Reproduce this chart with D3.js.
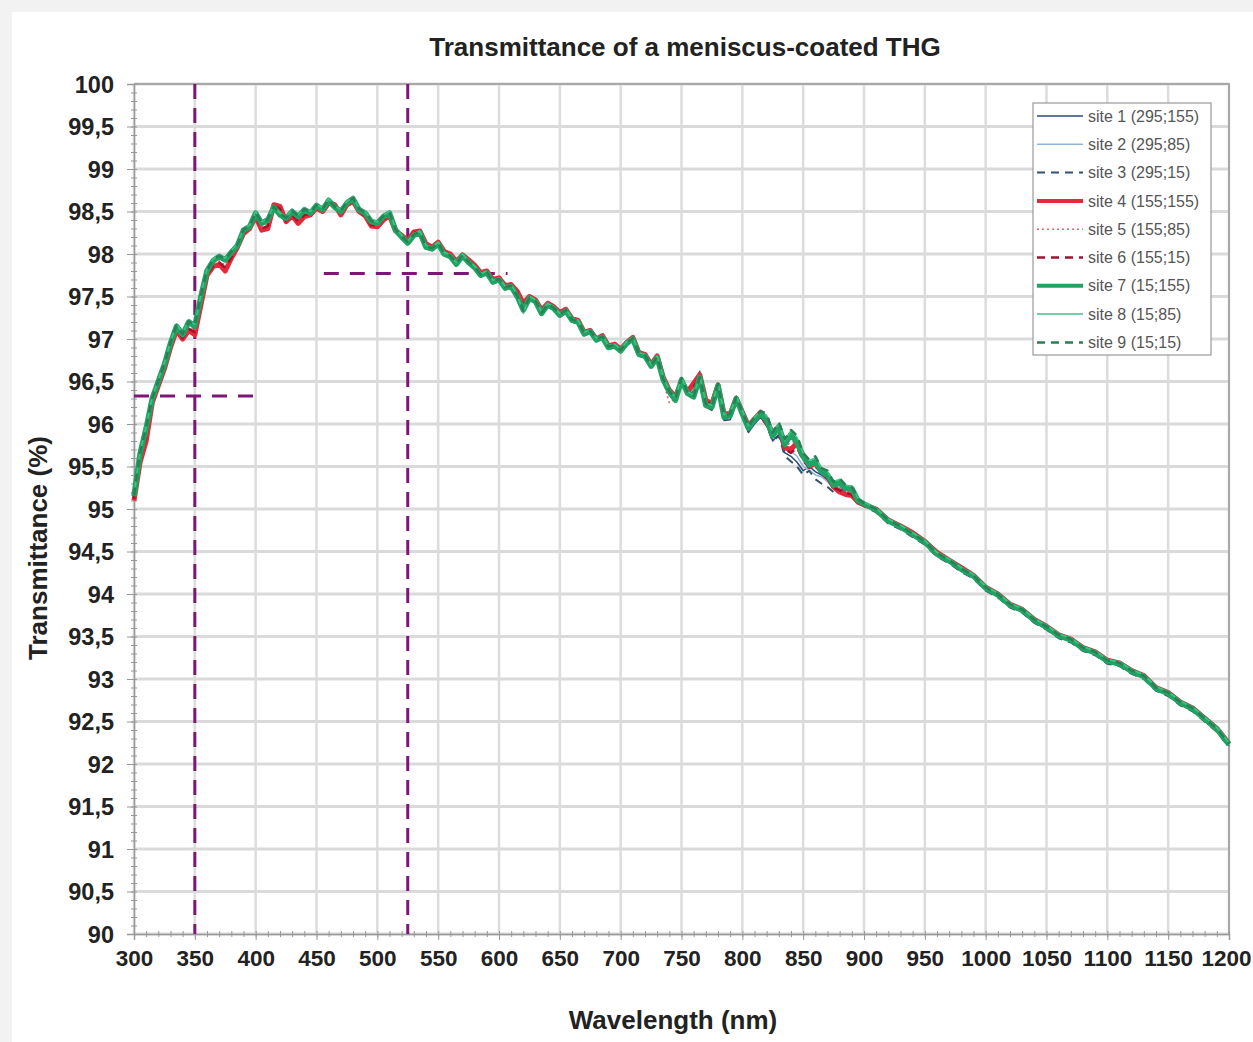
<!DOCTYPE html>
<html>
<head>
<meta charset="utf-8">
<script src="https://cdn.jsdelivr.net/npm/d3@7"></script>
<style>
    body { margin: 0; background: #f2f2f2; }
    #chart-area { width: 1253px; height: 1042px; }
    text { font-family: "Liberation Sans", Arial, sans-serif; }
</style>
</head>
<body>
<div id="chart-area"></div>
<script>

// wavelength (nm) : 5 nm steps up to 900, then 10 nm
var wavelengths = [
    300, 305, 310, 315, 320, 325, 330, 335, 340, 345,
    350, 355, 360, 365, 370, 375, 380, 385, 390, 395,
    400, 405, 410, 415, 420, 425, 430, 435, 440, 445,
    450, 455, 460, 465, 470, 475, 480, 485, 490, 495,
    500, 505, 510, 515, 520, 525, 530, 535, 540, 545,
    550, 555, 560, 565, 570, 575, 580, 585, 590, 595,
    600, 605, 610, 615, 620, 625, 630, 635, 640, 645,
    650, 655, 660, 665, 670, 675, 680, 685, 690, 695,
    700, 705, 710, 715, 720, 725, 730, 735, 740, 745,
    750, 755, 760, 765, 770, 775, 780, 785, 790, 795,
    800, 805, 810, 815, 820, 825, 830, 835, 840, 845,
    850, 855, 860, 865, 870, 875, 880, 885, 890, 895,
    900,
    910, 920, 930, 940, 950, 960, 970, 980, 990, 1000,
    1010, 1020, 1030, 1040, 1050, 1060, 1070, 1080, 1090, 1100,
    1110, 1120, 1130, 1140, 1150, 1160, 1170, 1180, 1190, 1200
];

var site1 = [
    95.20, 95.70, 95.92, 96.28, 96.52, 96.72, 96.92, 97.12, 97.08, 97.18,
    97.12, 97.48, 97.78, 97.90, 97.95, 97.91, 98.00, 98.08, 98.26, 98.30,
    98.46, 98.34, 98.38, 98.53, 98.44, 98.40, 98.48, 98.42, 98.50, 98.46,
    98.55, 98.50, 98.61, 98.53, 98.48, 98.58, 98.63, 98.50, 98.46, 98.36,
    98.34, 98.42, 98.46, 98.26, 98.18, 98.11, 98.20, 98.23, 98.06, 98.04,
    98.10, 97.98, 97.95, 97.86, 97.96, 97.88, 97.82, 97.73, 97.76, 97.65,
    97.68, 97.58, 97.60, 97.48, 97.36, 97.46, 97.42, 97.28, 97.38, 97.34,
    97.26, 97.31, 97.20, 97.18, 97.04, 97.07, 96.97, 97.00, 96.88, 96.90,
    96.84, 96.93, 96.98, 96.80, 96.78, 96.66, 96.76, 96.48, 96.34, 96.26,
    96.48, 96.34, 96.45, 96.62, 96.20, 96.16, 96.40, 96.04, 96.05, 96.26,
    96.08, 95.90, 96.00, 96.08, 95.98, 95.80, 95.88, 95.66, 95.62, 95.55,
    95.45, 95.50, 95.44, 95.40, 95.34, 95.24, 95.27, 95.22, 95.20, 95.08,
    95.04,
    94.97, 94.84, 94.77, 94.68, 94.59, 94.45, 94.37, 94.27, 94.19, 94.05,
    93.97, 93.85, 93.79, 93.67, 93.59, 93.49, 93.44, 93.34, 93.29, 93.19,
    93.16, 93.07, 93.01, 92.87, 92.81, 92.70, 92.63, 92.51, 92.39, 92.21
];

var site2 = [
    95.25, 95.72, 96.00, 96.33, 96.55, 96.74, 96.98, 97.18, 97.10, 97.23,
    97.18, 97.53, 97.83, 97.95, 98.00, 97.96, 98.05, 98.13, 98.31, 98.35,
    98.51, 98.39, 98.43, 98.58, 98.49, 98.45, 98.53, 98.47, 98.55, 98.51,
    98.60, 98.55, 98.66, 98.58, 98.53, 98.63, 98.68, 98.55, 98.51, 98.41,
    98.39, 98.47, 98.51, 98.31, 98.23, 98.16, 98.25, 98.28, 98.11, 98.09,
    98.15, 98.03, 98.00, 97.91, 98.01, 97.93, 97.87, 97.78, 97.81, 97.70,
    97.73, 97.63, 97.65, 97.53, 97.37, 97.51, 97.47, 97.33, 97.43, 97.39,
    97.31, 97.36, 97.25, 97.23, 97.09, 97.12, 97.02, 97.05, 96.93, 96.95,
    96.89, 96.98, 97.03, 96.85, 96.83, 96.71, 96.81, 96.58, 96.42, 96.34,
    96.55, 96.40, 96.42, 96.60, 96.26, 96.22, 96.44, 96.12, 96.08, 96.30,
    96.12, 95.94, 96.02, 96.10, 96.02, 95.84, 95.92, 95.72, 95.68, 95.62,
    95.50, 95.46, 95.40, 95.38, 95.32, 95.24, 95.28, 95.23, 95.21, 95.10,
    95.05,
    94.98, 94.85, 94.78, 94.69, 94.60, 94.46, 94.38, 94.28, 94.20, 94.06,
    93.98, 93.86, 93.80, 93.68, 93.60, 93.50, 93.45, 93.35, 93.30, 93.20,
    93.17, 93.08, 93.02, 92.88, 92.82, 92.71, 92.64, 92.52, 92.40, 92.22
];

var site3 = [
    95.18, 95.68, 95.93, 96.29, 96.49, 96.71, 96.94, 97.14, 97.04, 97.19,
    97.14, 97.49, 97.79, 97.91, 97.96, 97.92, 98.01, 98.09, 98.27, 98.31,
    98.47, 98.35, 98.39, 98.54, 98.45, 98.41, 98.49, 98.43, 98.51, 98.47,
    98.56, 98.51, 98.62, 98.54, 98.49, 98.59, 98.64, 98.51, 98.47, 98.37,
    98.35, 98.43, 98.47, 98.27, 98.19, 98.12, 98.21, 98.24, 98.07, 98.05,
    98.11, 97.99, 97.96, 97.87, 97.97, 97.89, 97.83, 97.74, 97.77, 97.66,
    97.69, 97.59, 97.61, 97.49, 97.33, 97.47, 97.43, 97.29, 97.39, 97.35,
    97.27, 97.32, 97.21, 97.19, 97.05, 97.08, 96.98, 97.01, 96.89, 96.91,
    96.85, 96.94, 96.99, 96.81, 96.79, 96.67, 96.77, 96.50, 96.36, 96.27,
    96.50, 96.35, 96.38, 96.58, 96.21, 96.18, 96.42, 96.06, 96.07, 96.28,
    96.10, 95.92, 96.02, 96.09, 95.98, 95.80, 95.86, 95.62, 95.56, 95.50,
    95.40, 95.45, 95.35, 95.30, 95.26, 95.20, 95.24, 95.20, 95.20, 95.08,
    95.03,
    94.96, 94.83, 94.76, 94.67, 94.58, 94.44, 94.36, 94.26, 94.18, 94.04,
    93.96, 93.84, 93.78, 93.66, 93.58, 93.48, 93.43, 93.33, 93.28, 93.18,
    93.15, 93.06, 93.00, 92.86, 92.80, 92.69, 92.62, 92.50, 92.38, 92.20
];

var site4 = [
    95.10, 95.55, 95.80, 96.25, 96.45, 96.65, 96.90, 97.10, 97.00, 97.10,
    97.05, 97.40, 97.75, 97.85, 97.88, 97.80, 97.95, 98.08, 98.24, 98.30,
    98.44, 98.28, 98.30, 98.58, 98.56, 98.38, 98.45, 98.36, 98.44, 98.46,
    98.54, 98.50, 98.60, 98.58, 98.46, 98.58, 98.62, 98.50, 98.45, 98.33,
    98.32, 98.40, 98.45, 98.27, 98.22, 98.16, 98.26, 98.27, 98.12, 98.08,
    98.14, 98.03, 98.00, 97.91, 97.99, 97.93, 97.87, 97.78, 97.80, 97.70,
    97.72, 97.63, 97.64, 97.56, 97.42, 97.50, 97.46, 97.34, 97.42, 97.38,
    97.31, 97.35, 97.24, 97.22, 97.08, 97.10, 97.00, 97.04, 96.92, 96.94,
    96.88, 96.96, 97.02, 96.84, 96.82, 96.70, 96.80, 96.55, 96.40, 96.32,
    96.50, 96.38, 96.48, 96.58, 96.28, 96.24, 96.46, 96.12, 96.12, 96.30,
    96.14, 95.98, 96.06, 96.14, 96.02, 95.90, 95.96, 95.72, 95.70, 95.78,
    95.62, 95.50, 95.54, 95.44, 95.38, 95.26, 95.20, 95.17, 95.16, 95.08,
    95.05,
    95.00, 94.87, 94.80, 94.72, 94.62, 94.49, 94.40, 94.31, 94.22, 94.08,
    94.00, 93.88, 93.82, 93.70, 93.62, 93.52, 93.47, 93.37, 93.32, 93.22,
    93.19, 93.10, 93.04, 92.90, 92.84, 92.73, 92.66, 92.54, 92.42, 92.24
];

var site5 = [
    95.14, 95.62, 95.90, 96.28, 96.48, 96.68, 96.92, 97.12, 97.03, 97.16,
    97.10, 97.45, 97.78, 97.88, 97.92, 97.87, 97.98, 98.09, 98.26, 98.31,
    98.46, 98.32, 98.35, 98.56, 98.50, 98.40, 98.47, 98.40, 98.48, 98.47,
    98.56, 98.51, 98.61, 98.56, 98.48, 98.59, 98.63, 98.51, 98.46, 98.35,
    98.34, 98.42, 98.46, 98.28, 98.21, 98.15, 98.24, 98.26, 98.10, 98.07,
    98.13, 98.02, 97.98, 97.90, 97.98, 97.92, 97.85, 97.76, 97.79, 97.69,
    97.71, 97.62, 97.63, 97.53, 97.38, 97.49, 97.45, 97.32, 97.41, 97.37,
    97.29, 97.34, 97.23, 97.21, 97.07, 97.09, 96.99, 97.03, 96.91, 96.93,
    96.87, 96.95, 97.01, 96.83, 96.81, 96.69, 96.79, 96.50, 96.25, 96.30,
    96.51, 96.37, 96.40, 96.56, 96.25, 96.22, 96.45, 96.10, 96.11, 96.29,
    96.13, 95.96, 96.05, 96.12, 96.04, 95.88, 95.96, 95.74, 95.78, 95.80,
    95.60, 95.52, 95.55, 95.45, 95.39, 95.27, 95.25, 95.21, 95.20, 95.09,
    95.05,
    94.99, 94.86, 94.79, 94.71, 94.61, 94.48, 94.39, 94.30, 94.21, 94.07,
    93.99, 93.87, 93.81, 93.69, 93.61, 93.51, 93.46, 93.36, 93.31, 93.21,
    93.18, 93.09, 93.03, 92.89, 92.83, 92.72, 92.65, 92.53, 92.41, 92.23
];

var site6 = [
    95.12, 95.60, 95.85, 96.26, 96.46, 96.66, 96.91, 97.11, 97.01, 97.12,
    97.08, 97.42, 97.76, 97.86, 97.90, 97.84, 97.96, 98.09, 98.25, 98.31,
    98.45, 98.30, 98.33, 98.57, 98.53, 98.39, 98.46, 98.38, 98.46, 98.47,
    98.55, 98.50, 98.60, 98.57, 98.47, 98.58, 98.62, 98.50, 98.45, 98.34,
    98.33, 98.41, 98.45, 98.27, 98.21, 98.15, 98.25, 98.26, 98.11, 98.07,
    98.13, 98.02, 97.99, 97.90, 97.98, 97.92, 97.86, 97.77, 97.79, 97.69,
    97.71, 97.62, 97.63, 97.54, 97.40, 97.49, 97.45, 97.33, 97.41, 97.37,
    97.30, 97.34, 97.23, 97.21, 97.07, 97.09, 96.99, 97.03, 96.91, 96.93,
    96.87, 96.95, 97.01, 96.83, 96.81, 96.69, 96.79, 96.53, 96.32, 96.30,
    96.50, 96.38, 96.44, 96.57, 96.26, 96.23, 96.45, 96.11, 96.10, 96.29,
    96.12, 95.96, 96.04, 96.12, 96.01, 95.88, 95.94, 95.70, 95.66, 95.72,
    95.57, 95.49, 95.50, 95.43, 95.36, 95.25, 95.22, 95.19, 95.17, 95.08,
    95.04,
    94.99, 94.86, 94.79, 94.71, 94.61, 94.48, 94.39, 94.30, 94.21, 94.07,
    93.99, 93.87, 93.81, 93.69, 93.61, 93.51, 93.46, 93.36, 93.31, 93.21,
    93.18, 93.09, 93.03, 92.89, 92.83, 92.72, 92.65, 92.53, 92.41, 92.23
];

var site7 = [
    95.15, 95.65, 95.95, 96.30, 96.50, 96.70, 96.95, 97.15, 97.05, 97.20,
    97.15, 97.50, 97.80, 97.92, 97.97, 97.93, 98.02, 98.10, 98.28, 98.32,
    98.48, 98.36, 98.40, 98.55, 98.46, 98.42, 98.50, 98.44, 98.52, 98.48,
    98.57, 98.52, 98.63, 98.55, 98.50, 98.60, 98.65, 98.52, 98.48, 98.38,
    98.36, 98.44, 98.48, 98.28, 98.20, 98.13, 98.22, 98.25, 98.08, 98.06,
    98.12, 98.00, 97.97, 97.88, 97.98, 97.90, 97.84, 97.75, 97.78, 97.67,
    97.70, 97.60, 97.62, 97.50, 97.34, 97.48, 97.44, 97.30, 97.40, 97.36,
    97.28, 97.33, 97.22, 97.20, 97.06, 97.09, 96.99, 97.02, 96.90, 96.92,
    96.86, 96.95, 97.00, 96.82, 96.80, 96.68, 96.78, 96.52, 96.38, 96.28,
    96.52, 96.36, 96.32, 96.55, 96.22, 96.20, 96.45, 96.08, 96.10, 96.30,
    96.12, 95.95, 96.05, 96.12, 96.05, 95.86, 95.97, 95.76, 95.88, 95.78,
    95.62, 95.52, 95.56, 95.44, 95.40, 95.28, 95.31, 95.24, 95.24, 95.10,
    95.06,
    94.99, 94.86, 94.79, 94.70, 94.61, 94.47, 94.39, 94.29, 94.21, 94.07,
    93.99, 93.87, 93.81, 93.69, 93.61, 93.51, 93.46, 93.36, 93.31, 93.21,
    93.18, 93.09, 93.03, 92.89, 92.83, 92.72, 92.65, 92.53, 92.41, 92.23
];

var site8 = [
    95.17, 95.67, 95.97, 96.32, 96.52, 96.72, 96.97, 97.17, 97.07, 97.22,
    97.17, 97.52, 97.82, 97.94, 97.99, 97.95, 98.04, 98.12, 98.30, 98.34,
    98.50, 98.38, 98.42, 98.57, 98.48, 98.44, 98.52, 98.46, 98.54, 98.50,
    98.59, 98.54, 98.65, 98.57, 98.52, 98.62, 98.67, 98.54, 98.50, 98.40,
    98.38, 98.46, 98.50, 98.30, 98.22, 98.15, 98.24, 98.27, 98.10, 98.08,
    98.14, 98.02, 97.99, 97.90, 98.00, 97.92, 97.86, 97.77, 97.80, 97.69,
    97.72, 97.62, 97.64, 97.52, 97.30, 97.50, 97.46, 97.32, 97.42, 97.38,
    97.30, 97.35, 97.24, 97.22, 97.08, 97.11, 97.01, 97.04, 96.92, 96.94,
    96.88, 96.97, 97.02, 96.84, 96.82, 96.70, 96.80, 96.55, 96.40, 96.31,
    96.55, 96.38, 96.34, 96.56, 96.25, 96.22, 96.48, 96.11, 96.13, 96.33,
    96.16, 95.98, 96.08, 96.16, 96.10, 95.90, 96.00, 95.80, 95.92, 95.84,
    95.66, 95.57, 95.60, 95.48, 95.44, 95.32, 95.35, 95.28, 95.27, 95.13,
    95.08,
    95.01, 94.88, 94.81, 94.72, 94.63, 94.49, 94.41, 94.31, 94.23, 94.09,
    94.01, 93.89, 93.83, 93.71, 93.63, 93.53, 93.48, 93.38, 93.33, 93.23,
    93.20, 93.11, 93.05, 92.91, 92.85, 92.74, 92.67, 92.55, 92.43, 92.25
];

var site9 = [
    95.16, 95.66, 95.96, 96.31, 96.51, 96.71, 96.96, 97.16, 97.06, 97.21,
    97.16, 97.51, 97.81, 97.93, 97.98, 97.94, 98.03, 98.11, 98.29, 98.33,
    98.49, 98.37, 98.41, 98.56, 98.47, 98.43, 98.51, 98.45, 98.53, 98.49,
    98.58, 98.53, 98.64, 98.56, 98.51, 98.61, 98.66, 98.53, 98.49, 98.39,
    98.37, 98.45, 98.49, 98.29, 98.21, 98.14, 98.23, 98.26, 98.09, 98.07,
    98.13, 98.01, 97.98, 97.89, 97.99, 97.91, 97.85, 97.76, 97.79, 97.68,
    97.71, 97.61, 97.63, 97.51, 97.33, 97.49, 97.45, 97.31, 97.41, 97.37,
    97.29, 97.34, 97.23, 97.21, 97.07, 97.10, 97.00, 97.03, 96.91, 96.93,
    96.87, 96.96, 97.01, 96.83, 96.81, 96.69, 96.79, 96.53, 96.39, 96.30,
    96.54, 96.37, 96.33, 96.55, 96.24, 96.21, 96.47, 96.10, 96.12, 96.32,
    96.15, 95.97, 96.08, 96.15, 96.12, 95.90, 96.02, 95.82, 95.93, 95.86,
    95.66, 95.58, 95.62, 95.48, 95.45, 95.32, 95.36, 95.28, 95.26, 95.12,
    95.07,
    95.00, 94.87, 94.80, 94.71, 94.62, 94.48, 94.40, 94.30, 94.22, 94.08,
    94.00, 93.88, 93.82, 93.70, 93.62, 93.52, 93.47, 93.37, 93.32, 93.22,
    93.19, 93.10, 93.04, 92.90, 92.84, 92.73, 92.66, 92.54, 92.42, 92.24
];

var siteNames = [
    "site 1 (295;155)", "site 2 (295;85)", "site 3 (295;15)",
    "site 4 (155;155)", "site 5 (155;85)", "site 6 (155;15)",
    "site 7 (15;155)", "site 8 (15;85)", "site 9 (15;15)"
];
var siteValues = [site1, site2, site3, site4, site5, site6, site7, site8, site9];

var xTickValues = [300, 350, 400, 450, 500, 550, 600, 650, 700, 750, 800, 850, 900, 950, 1000, 1050, 1100, 1150, 1200];
var yTickValues = [90, 90.5, 91, 91.5, 92, 92.5, 93, 93.5, 94, 94.5, 95, 95.5, 96, 96.5, 97, 97.5, 98, 98.5, 99, 99.5, 100];

// purple dashed guide lines (wavelength / transmittance)
var guideVerticals = [350, 525];
var guideHorizontals = [
    { t: 96.33, from: 300, to: 404 },
    { t: 97.77, from: 456, to: 607 }
];

// line styles per site, same order as siteNames
var siteStyles = [
    { color: "#2b4a7a", width: 1.5, dash: null },
    { color: "#8fb3d9", width: 1.5, dash: null },
    { color: "#33506e", width: 2,   dash: "8,6" },
    { color: "#e5283a", width: 5,   dash: null },
    { color: "#e8606e", width: 1.5, dash: "2,3" },
    { color: "#a3122f", width: 2.5, dash: "8,6" },
    { color: "#1fa463", width: 5.5, dash: null },
    { color: "#45c184", width: 1.5, dash: null },
    { color: "#2a7f55", width: 2.5, dash: "8,6" }
];


TransmittanceChart = function(_parentElement, _names, _values) {
    this.parentElement = _parentElement;
    this.names = _names;
    this.values = _values;
    this.totalWidth = 1253;
    this.totalHeight = 1042;
    this.plot = { left: 134, right: 1229, top: 84, bottom: 934 };

    this.initVis();
};

TransmittanceChart.prototype.initVis = function() {
    this.wrangleData();
    this.initSVG();
    this.initScales();
    this.drawGrid();
    this.drawAxes();
    this.drawGuides();
    this.drawLines();
    this.drawLegend();
    this.drawLabels();
};

TransmittanceChart.prototype.wrangleData = function() {
    var vis = this;
    vis.series = vis.names.map(function(name, i) {
        return {
            name: name,
            style: siteStyles[i],
            points: wavelengths.map(function(w, j) { return { w: w, t: vis.values[i][j] }; })
        };
    });
};

TransmittanceChart.prototype.initSVG = function() {
    this.svg = d3.select("#" + this.parentElement).append("svg")
        .attr("width", this.totalWidth)
        .attr("height", this.totalHeight);

    // light frame around the chart, as in the scan
    this.svg.append("rect")
        .attr("width", this.totalWidth).attr("height", this.totalHeight)
        .attr("fill", "#f2f2f2");
    this.svg.append("rect")
        .attr("x", 12).attr("y", 12)
        .attr("width", this.totalWidth - 12).attr("height", this.totalHeight - 12)
        .attr("fill", "#ffffff");
};

TransmittanceChart.prototype.initScales = function() {
    this.x = d3.scaleLinear()
        .domain([300, 1200])
        .range([this.plot.left, this.plot.right]);

    this.y = d3.scaleLinear()
        .domain([90, 100])
        .range([this.plot.bottom, this.plot.top]);
};

TransmittanceChart.prototype.drawGrid = function() {
    var vis = this;
    var grid = vis.svg.append("g").attr("class", "grid");

    grid.selectAll(".hgrid")
        .data(yTickValues)
        .enter().append("line")
        .attr("class", "hgrid")
        .attr("x1", vis.plot.left).attr("x2", vis.plot.right)
        .attr("y1", function(d) { return vis.y(d); })
        .attr("y2", function(d) { return vis.y(d); })
        .attr("stroke", "#dadada")
        .attr("stroke-width", 3);

    grid.selectAll(".vgrid")
        .data(xTickValues)
        .enter().append("line")
        .attr("class", "vgrid")
        .attr("x1", function(d) { return vis.x(d); })
        .attr("x2", function(d) { return vis.x(d); })
        .attr("y1", vis.plot.top).attr("y2", vis.plot.bottom)
        .attr("stroke", "#dcdcdc")
        .attr("stroke-width", 2.5);

    // plot border (top + right)
    grid.append("path")
        .attr("d", "M" + vis.plot.left + "," + vis.plot.top + "H" + vis.plot.right + "V" + vis.plot.bottom)
        .attr("fill", "none")
        .attr("stroke", "#a8a8a8")
        .attr("stroke-width", 2);
};

TransmittanceChart.prototype.drawAxes = function() {
    var vis = this;
    var fmt = function(d) { return String(d).replace(".", ","); };

    // minor ticks first
    vis.svg.append("g")
        .attr("transform", "translate(" + vis.plot.left + ",0)")
        .call(d3.axisLeft(vis.y).ticks(100).tickSize(3).tickFormat(""))
        .call(function(g) {
            g.select(".domain").remove();
            g.selectAll("line").attr("stroke", "#999").attr("x2", 3).attr("x1", -3);
        });

    vis.svg.append("g")
        .attr("transform", "translate(0," + vis.plot.bottom + ")")
        .call(d3.axisBottom(vis.x).ticks(90).tickSize(3).tickFormat(""))
        .call(function(g) {
            g.select(".domain").remove();
            g.selectAll("line").attr("stroke", "#999").attr("y1", -3).attr("y2", 3);
        });

    vis.yAxis = d3.axisLeft(vis.y).tickValues(yTickValues).tickSize(7).tickPadding(13).tickFormat(fmt);
    vis.xAxis = d3.axisBottom(vis.x).tickValues(xTickValues).tickSize(6).tickPadding(10).tickFormat(function(d) { return d; });

    vis.svg.append("g")
        .attr("class", "y-axis axis")
        .attr("transform", "translate(" + vis.plot.left + ",0)")
        .call(vis.yAxis);

    vis.svg.append("g")
        .attr("class", "x-axis axis")
        .attr("transform", "translate(0," + vis.plot.bottom + ")")
        .call(vis.xAxis);

    vis.svg.selectAll(".axis .domain").attr("stroke", "#999").attr("stroke-width", 1.5);
    vis.svg.selectAll(".axis .tick line").attr("stroke", "#999");
    vis.svg.selectAll(".axis text")
        .attr("font-family", "'Liberation Sans', Arial, sans-serif")
        .attr("font-weight", "bold")
        .attr("fill", "#222");
    vis.svg.selectAll(".y-axis text").attr("font-size", 23.5).attr("dy", "0.36em");
    vis.svg.selectAll(".x-axis text").attr("font-size", 22.5)
        .attr("dx", function(d) { return d === 1200 ? -3 : 0; });
};

TransmittanceChart.prototype.drawGuides = function() {
    var vis = this;
    var g = vis.svg.append("g").attr("class", "guides");
    var purple = "#7d1678";

    g.selectAll(".vguide")
        .data(guideVerticals)
        .enter().append("line")
        .attr("x1", function(d) { return vis.x(d); })
        .attr("x2", function(d) { return vis.x(d); })
        .attr("y1", vis.y(100)).attr("y2", vis.y(90))
        .attr("stroke", purple).attr("stroke-width", 3)
        .attr("stroke-dasharray", "15,9");

    g.selectAll(".hguide")
        .data(guideHorizontals)
        .enter().append("line")
        .attr("x1", function(d) { return vis.x(d.from); })
        .attr("x2", function(d) { return vis.x(d.to); })
        .attr("y1", function(d) { return vis.y(d.t); })
        .attr("y2", function(d) { return vis.y(d.t); })
        .attr("stroke", purple).attr("stroke-width", 3)
        .attr("stroke-dasharray", "15,11");
};

TransmittanceChart.prototype.drawLines = function() {
    var vis = this;
    vis.line = d3.line()
        .x(function(d) { return vis.x(d.w); })
        .y(function(d) { return vis.y(d.t); });

    vis.svg.append("g").attr("class", "series")
        .selectAll("path")
        .data(vis.series)
        .enter().append("path")
        .attr("fill", "none")
        .attr("stroke", function(d) { return d.style.color; })
        .attr("stroke-width", function(d) { return d.style.width; })
        .attr("stroke-dasharray", function(d) { return d.style.dash; })
        .attr("stroke-linejoin", "round")
        .attr("d", function(d) { return vis.line(d.points); });
};

TransmittanceChart.prototype.drawLegend = function() {
    var vis = this;
    var legend = vis.svg.append("g")
        .attr("class", "legend")
        .attr("transform", "translate(1033,103)");

    legend.append("rect")
        .attr("width", 178).attr("height", 252)
        .attr("fill", "#fff")
        .attr("stroke", "#9a9a9a").attr("stroke-width", 1.2);

    var items = legend.selectAll(".item")
        .data(vis.series)
        .enter().append("g")
        .attr("class", "item")
        .attr("transform", function(d, i) { return "translate(0," + (13 + i * 28.3) + ")"; });

    items.append("line")
        .attr("x1", 4).attr("x2", 50)
        .attr("stroke", function(d) { return d.style.color; })
        .attr("stroke-width", function(d) { return Math.min(d.style.width, 4); })
        .attr("stroke-dasharray", function(d) { return d.style.dash; });

    items.append("text")
        .attr("x", 55).attr("dy", "0.35em")
        .attr("font-size", 16)
        .attr("fill", "#555")
        .text(function(d) { return d.name; });
};

TransmittanceChart.prototype.drawLabels = function() {
    var vis = this;

    vis.svg.append("text")
        .attr("x", 685).attr("y", 56)
        .attr("text-anchor", "middle")
        .attr("font-size", 26).attr("font-weight", "bold").attr("fill", "#222")
        .text("Transmittance of a meniscus-coated THG");

    vis.svg.append("text")
        .attr("x", 673).attr("y", 1029)
        .attr("text-anchor", "middle")
        .attr("font-size", 26).attr("font-weight", "bold").attr("fill", "#222")
        .text("Wavelength (nm)");

    vis.svg.append("text")
        .attr("transform", "translate(47,548) rotate(-90)")
        .attr("text-anchor", "middle")
        .attr("font-size", 26).attr("font-weight", "bold").attr("fill", "#222")
        .text("Transmittance (%)");
};

var chart = new TransmittanceChart("chart-area", siteNames, siteValues);

</script>
</body>
</html>
